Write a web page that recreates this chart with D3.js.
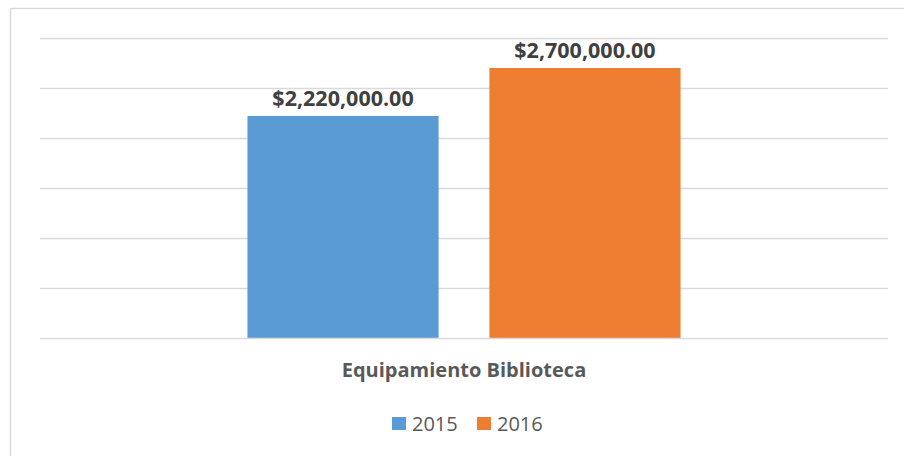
<!DOCTYPE html>
<html>
<head>
<meta charset="utf-8">
<script src="https://cdn.jsdelivr.net/npm/d3@7"></script>
<style>
  body { margin: 0; background: #fff; }
  text { font-family: "Open Sans", "Liberation Sans", sans-serif; }
</style>
</head>
<body>
<div id="chart"></div>
<script>
// chart data
var categories = ["Equipamiento Biblioteca"],
    series = ["2015", "2016"],
    values = [[2220000, 2700000]],
    yTicks = [0, 500000, 1000000, 1500000, 2000000, 2500000, 3000000],
    colors = ["#5B9BD5", "#ED7D31"];

var width = 904, height = 456;

var svg = d3.select("#chart").append("svg")
    .attr("width", width)
    .attr("height", height);

// outer frame of the chart area
svg.append("rect")
    .attr("x", 10.5).attr("y", 8.5)
    .attr("width", 900).attr("height", 460)
    .attr("fill", "#fff")
    .attr("stroke", "#D9D9D9")
    .attr("stroke-width", 1.5);

var margin = {left: 40, right: 16, top: 38, bottom: 118};

var x = d3.scaleBand()
    .domain(categories)
    .range([margin.left, width - margin.right])
    .paddingInner(0)
    .paddingOuter(0.479);

var xInner = d3.scaleBand()
    .domain(series)
    .range([0, x.bandwidth()])
    .paddingInner(0.21);

var y = d3.scaleLinear()
    .domain([0, 3000000])
    .range([height - margin.bottom, margin.top]);

// gridlines
svg.append("g")
    .selectAll("line")
    .data(yTicks.slice(1))
    .enter().append("line")
    .attr("x1", margin.left)
    .attr("x2", width - margin.right)
    .attr("y1", function (d) { return Math.round(y(d)) + 0.5; })
    .attr("y2", function (d) { return Math.round(y(d)) + 0.5; })
    .attr("stroke", "#D9D9D9")
    .attr("stroke-width", 1.3);

var fmt = d3.format("$,.2f");

var groups = svg.append("g")
    .selectAll("g")
    .data(categories)
    .enter().append("g")
    .attr("transform", function (d) { return "translate(" + x(d) + ",0)"; });

groups.selectAll("rect")
    .data(function (d, i) {
        return series.map(function (s, j) { return {s: s, v: values[i][j], c: colors[j]}; });
    })
    .enter().append("rect")
    .attr("x", function (d) { return xInner(d.s); })
    .attr("width", xInner.bandwidth())
    .attr("y", function (d) { return y(d.v); })
    .attr("height", function (d) { return y(0) - y(d.v); })
    .attr("fill", function (d) { return d.c; });

// value labels
groups.selectAll("text.val")
    .data(function (d, i) {
        return series.map(function (s, j) { return {s: s, v: values[i][j]}; });
    })
    .enter().append("text")
    .attr("class", "val")
    .attr("x", function (d) { return xInner(d.s) + xInner.bandwidth() / 2; })
    .attr("y", function (d) { return y(d.v) - 10; })
    .attr("text-anchor", "middle")
    .attr("font-size", 21.5)
    .attr("font-weight", "bold")
    .attr("fill", "#404040")
    .text(function (d) { return fmt(d.v); });

// x axis line
svg.append("line")
    .attr("x1", margin.left)
    .attr("x2", width - margin.right)
    .attr("y1", Math.round(y(0)) + 0.5)
    .attr("y2", Math.round(y(0)) + 0.5)
    .attr("stroke", "#D9D9D9")
    .attr("stroke-width", 1.3);

// category label
svg.selectAll("text.cat")
    .data(categories)
    .enter().append("text")
    .attr("class", "cat")
    .attr("x", function (d) { return x(d) + x.bandwidth() / 2; })
    .attr("y", 377)
    .attr("text-anchor", "middle")
    .attr("font-size", 20)
    .attr("font-weight", "bold")
    .attr("fill", "#595959")
    .text(function (d) { return d; });

// legend
var legendX = [392, 477];
var legend = svg.append("g")
    .selectAll("g")
    .data(series)
    .enter().append("g")
    .attr("transform", function (d, i) { return "translate(" + legendX[i] + ",417)"; });

legend.append("rect")
    .attr("width", 14).attr("height", 13)
    .attr("fill", function (d, i) { return colors[i]; });

legend.append("text")
    .attr("x", 20)
    .attr("y", 13.5)
    .attr("font-size", 20)
    .attr("fill", "#595959")
    .text(function (d) { return d; });
</script>
</body>
</html>
